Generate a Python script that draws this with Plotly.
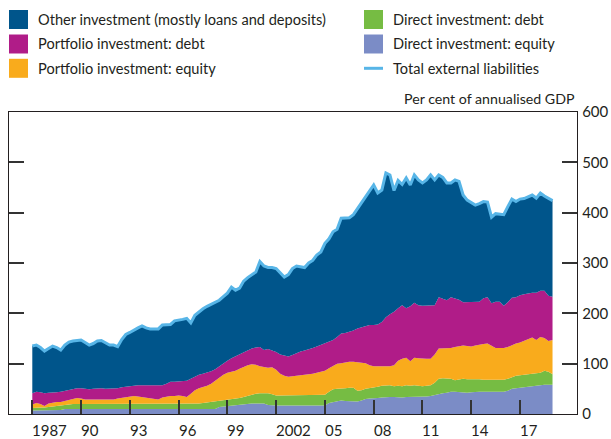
import plotly.graph_objects as go

# ---------------- data (per cent of annualised GDP), quarterly 1987Q1 - 2019Q1 ----------------
start_year = 1987
# upper edge of each stacked layer (cumulative levels), one row per year
direct_equity = [
    7, 7, 7, 7,         # 1987
    7, 7, 7, 8,         # 1988
    10, 10, 10, 10,     # 1989
    10, 10, 10, 10,     # 1990
    10, 10, 10, 10,     # 1991
    10, 10, 10, 10,     # 1992
    10, 10, 10, 10,     # 1993
    10, 10, 10, 10,     # 1994
    10, 10, 10, 10,     # 1995
    10, 10, 10, 10,     # 1996
    10, 10, 10, 10,     # 1997
    10, 10, 14, 15,     # 1998
    15, 16, 17, 18,     # 1999
    19, 20, 21, 21,     # 2000
    21, 21, 18, 17,     # 2001
    17, 17, 17, 17,     # 2002
    17, 17, 17, 17,     # 2003
    17, 17, 17, 17,     # 2004
    17, 22, 24, 25,     # 2005
    27, 26, 26, 26,     # 2006
    25, 27, 30, 31,     # 2007
    31, 32, 33, 34,     # 2008
    34, 34, 33, 33,     # 2009
    34, 34, 34, 34,     # 2010
    34, 35, 36, 38,     # 2011
    40, 41, 42, 44,     # 2012
    44, 43, 42, 42,     # 2013
    43, 44, 44, 44,     # 2014
    44, 44, 44, 44,     # 2015
    44, 46, 50, 51,     # 2016
    52, 53, 55, 56,     # 2017
    57, 58, 58, 58,     # 2018
    58]                 # 2019
direct_debt_top = [
    12, 13, 13, 13,     # 1987
    14, 15, 16, 17,     # 1988
    19, 20, 20, 20,     # 1989
    20, 20, 20, 20,     # 1990
    20, 20, 20, 20,     # 1991
    20, 20, 20, 20,     # 1992
    20, 20, 20, 20,     # 1993
    20, 20, 20, 20,     # 1994
    20, 20, 20, 20,     # 1995
    20, 20, 20, 20,     # 1996
    21, 21, 22, 23,     # 1997
    24, 25, 27, 28,     # 1998
    29, 30, 31, 32,     # 1999
    34, 36, 39, 40,     # 2000
    41, 41, 41, 39,     # 2001
    37, 37, 37, 37,     # 2002
    37, 37, 37, 37,     # 2003
    37, 37, 37, 37,     # 2004
    38, 44, 49, 50,     # 2005
    50, 51, 52, 52,     # 2006
    46, 47, 50, 51,     # 2007
    52, 54, 56, 57,     # 2008
    57, 55, 56, 55,     # 2009
    57, 56, 57, 56,     # 2010
    55, 56, 57, 62,     # 2011
    70, 71, 71, 70,     # 2012
    67, 68, 70, 69,     # 2013
    69, 70, 69, 68,     # 2014
    68, 68, 68, 68,     # 2015
    68, 70, 73, 76,     # 2016
    77, 78, 79, 79,     # 2017
    80, 82, 86, 84,     # 2018
    79]                 # 2019
portfolio_equity_top = [
    19, 22, 20, 16,     # 1987
    21, 23, 24, 24,     # 1988
    26, 29, 31, 32,     # 1989
    31, 29, 29, 29,     # 1990
    29, 29, 29, 29,     # 1991
    29, 31, 32, 33,     # 1992
    35, 36, 35, 34,     # 1993
    33, 32, 30, 29,     # 1994
    33, 35, 36, 36,     # 1995
    37, 36, 34, 40,     # 1996
    47, 51, 53, 56,     # 1997
    60, 66, 72, 78,     # 1998
    82, 84, 86, 90,     # 1999
    94, 97, 99, 98,     # 2000
    95, 93, 92, 93,     # 2001
    88, 80, 76, 74,     # 2002
    75, 76, 77, 77,     # 2003
    78, 80, 82, 84,     # 2004
    86, 91, 96, 100,    # 2005
    101, 103, 104, 104,  # 2006
    103, 101, 101, 97,  # 2007
    95, 95, 95, 95,     # 2008
    95, 97, 106, 110,   # 2009
    112, 105, 112, 111,  # 2010
    110, 110, 110, 118,  # 2011
    130, 130, 131, 131,  # 2012
    133, 135, 136, 135,  # 2013
    134, 136, 138, 139,  # 2014
    140, 135, 131, 131,  # 2015
    131, 133, 137, 140,  # 2016
    142, 145, 148, 152,  # 2017
    147, 153, 151, 145,  # 2018
    147]                # 2019
portfolio_debt_top = [
    41, 44, 43, 41,     # 1987
    42, 42, 43, 44,     # 1988
    46, 48, 50, 51,     # 1989
    51, 50, 49, 50,     # 1990
    51, 51, 50, 50,     # 1991
    50, 51, 53, 54,     # 1992
    56, 57, 57, 57,     # 1993
    57, 57, 57, 57,     # 1994
    57, 60, 64, 64,     # 1995
    65, 66, 66, 70,     # 1996
    74, 78, 80, 82,     # 1997
    85, 89, 95, 100,    # 1998
    106, 111, 115, 118,  # 1999
    122, 126, 130, 132,  # 2000
    133, 127, 129, 126,  # 2001
    123, 118, 116, 114,  # 2002
    117, 121, 124, 126,  # 2003
    128, 131, 134, 137,  # 2004
    140, 144, 147, 153,  # 2005
    160, 161, 163, 166,  # 2006
    170, 172, 175, 177,  # 2007
    177, 178, 183, 192,  # 2008
    198, 203, 210, 216,  # 2009
    210, 214, 221, 216,  # 2010
    215, 215, 215, 216,  # 2011
    232, 229, 226, 232,  # 2012
    230, 227, 222, 222,  # 2013
    222, 222, 223, 230,  # 2014
    232, 220, 223, 223,  # 2015
    215, 222, 231, 232,  # 2016
    236, 238, 240, 241,  # 2017
    241, 245, 245, 235,  # 2018
    233]                # 2019
total_liabilities = [
    135, 137, 132, 125,  # 1987
    130, 135, 132, 127,  # 1988
    137, 143, 145, 146,  # 1989
    147, 142, 137, 140,  # 1990
    145, 146, 142, 137,  # 1991
    137, 134, 148, 158,  # 1992
    162, 167, 171, 175,  # 1993
    171, 169, 169, 169,  # 1994
    177, 177, 178, 185,  # 1995
    186, 188, 190, 181,  # 1996
    196, 203, 209, 214,  # 1997
    218, 223, 226, 233,  # 1998
    240, 252, 246, 250,  # 1999
    264, 271, 276, 282,  # 2000
    303, 294, 291, 291,  # 2001
    289, 281, 272, 277,  # 2002
    289, 294, 293, 291,  # 2003
    300, 305, 316, 322,  # 2004
    339, 348, 362, 367,  # 2005
    389, 389, 390, 396,  # 2006
    408, 420, 430, 442,  # 2007
    455, 439, 445, 479,  # 2008
    475, 444, 464, 456,  # 2009
    469, 455, 475, 465,  # 2010
    459, 465, 475, 465,  # 2011
    475, 470, 459, 459,  # 2012
    465, 462, 435, 425,  # 2013
    420, 415, 418, 422,  # 2014
    421, 391, 398, 397,  # 2015
    396, 412, 427, 422,  # 2016
    427, 428, 431, 435,  # 2017
    429, 439, 433, 428,  # 2018
    424]                # 2019

n_quarters = len(total_liabilities)
for arr in (direct_equity, direct_debt_top, portfolio_equity_top, portfolio_debt_top):
    assert len(arr) == n_quarters, len(arr)
x_quarters = [start_year + i / 4 for i in range(n_quarters)]

tick_years = [1987, 1990, 1993, 1996, 1999, 2002, 2005, 2008, 2011, 2014, 2017]
tick_labels = ["1987", "90", "93", "96", "99", "2002", "05", "08", "11", "14", "17"]
y_ticks = [0, 100, 200, 300, 400, 500, 600]

series_names = ["Direct investment: equity", "Direct investment: debt",
                "Portfolio investment: equity", "Portfolio investment: debt",
                "Other investment (mostly loans and deposits)"]
series_levels = [direct_equity, direct_debt_top, portfolio_equity_top,
                 portfolio_debt_top, total_liabilities]
series_colors = ["#7b8cc6", "#76bc43", "#f9ab1c", "#b01c88", "#00558b"]
line_name = "Total external liabilities"
line_color = "#57b5e7"

# ---------------- figure ----------------
W, H = 611, 439
ML, MR, MT, MB = 9, 34, 112, 25
PW, PH = W - ML - MR, H - MT - MB
TXT = "#231f20"
FONT = "Lato"


def px_x(px):
    return (px - ML) / PW


def px_y(py):
    return (H - MB - py) / PH


fig = go.Figure()
for i, (name, lev, col) in enumerate(zip(series_names, series_levels, series_colors)):
    fig.add_trace(go.Scatter(
        x=x_quarters, y=lev, name=name, mode="lines",
        line=dict(width=0, color=col),
        fill="tozeroy" if i == 0 else "tonexty",
        fillcolor=col, showlegend=False, hoverinfo="skip"))

fig.add_trace(go.Scatter(
    x=x_quarters, y=total_liabilities, name=line_name, mode="lines",
    line=dict(width=3, color=line_color), showlegend=False))

# ---------------- manual legend ----------------
legend_col1 = [("Other investment (mostly loans and deposits)", "#00558b"),
               ("Portfolio investment: debt", "#b01c88"),
               ("Portfolio investment: equity", "#f9ab1c")]
legend_col2 = [("Direct investment: debt", "#76bc43"),
               ("Direct investment: equity", "#7b8cc6"),
               (line_name, None)]
row_centres = [19.5, 44.0, 68.3]
shapes = []
annotations = []
for col_items, sx, tx in [(legend_col1, 9, 36), (legend_col2, 364, 391)]:
    for (label, col), cy in zip(col_items, row_centres):
        if col is not None:
            shapes.append(dict(type="rect", xref="paper", yref="paper",
                               x0=px_x(sx), x1=px_x(sx + 19),
                               y0=px_y(cy + 9.5), y1=px_y(cy - 9.5),
                               fillcolor=col, line=dict(width=0)))
        else:
            shapes.append(dict(type="line", xref="paper", yref="paper",
                               x0=px_x(sx), x1=px_x(sx + 19),
                               y0=px_y(cy), y1=px_y(cy),
                               line=dict(color=line_color, width=3)))
        annotations.append(dict(text=label, xref="paper", yref="paper",
                                x=px_x(tx), y=px_y(cy), xanchor="left",
                                yanchor="middle", showarrow=False,
                                font=dict(size=14.6, color=TXT, family=FONT)))

annotations.append(dict(text="Per cent of annualised GDP", xref="paper", yref="paper",
                        x=px_x(577), y=px_y(99), xanchor="right", yanchor="middle",
                        showarrow=False, font=dict(size=14.2, color=TXT, family=FONT)))

for yr, lab in zip(tick_years, tick_labels):
    annotations.append(dict(text=lab, xref="x", yref="paper", x=yr, y=px_y(430),
                            xanchor="left", yanchor="middle", xshift=-2, showarrow=False,
                            font=dict(size=15, color=TXT, family=FONT)))

px_per_year = 16.257
x0 = 1987 - (32.3 - ML) / px_per_year
x1 = x0 + PW / px_per_year

fig.update_layout(
    width=W, height=H,
    margin=dict(l=ML, r=MR, t=MT, b=MB, pad=0, autoexpand=False),
    paper_bgcolor="white", plot_bgcolor="white",
    showlegend=False,
    shapes=shapes, annotations=annotations,
    font=dict(family=FONT, color=TXT, size=15),
    xaxis=dict(range=[x0, x1], showgrid=False, zeroline=False, automargin=False,
               showline=True, mirror=True, linecolor=TXT, linewidth=1.3,
               ticks="inside", tickvals=tick_years, ticklen=14, tickwidth=1.6,
               tickcolor="#333333", showticklabels=False),
    yaxis=dict(range=[0, 600], side="right", showgrid=False, zeroline=False,
               automargin=False,
               showline=True, mirror="ticks", linecolor=TXT, linewidth=1.3,
               ticks="inside", tickvals=y_ticks, ticklen=15, tickwidth=1.6,
               tickcolor="#333333", ticklabelstandoff=1,
               tickfont=dict(size=15, color=TXT, family=FONT)),
)

fig.write_html("out.html", config={"displayModeBar": False},
               post_script="document.body.style.margin='0';document.body.style.padding='0';")
